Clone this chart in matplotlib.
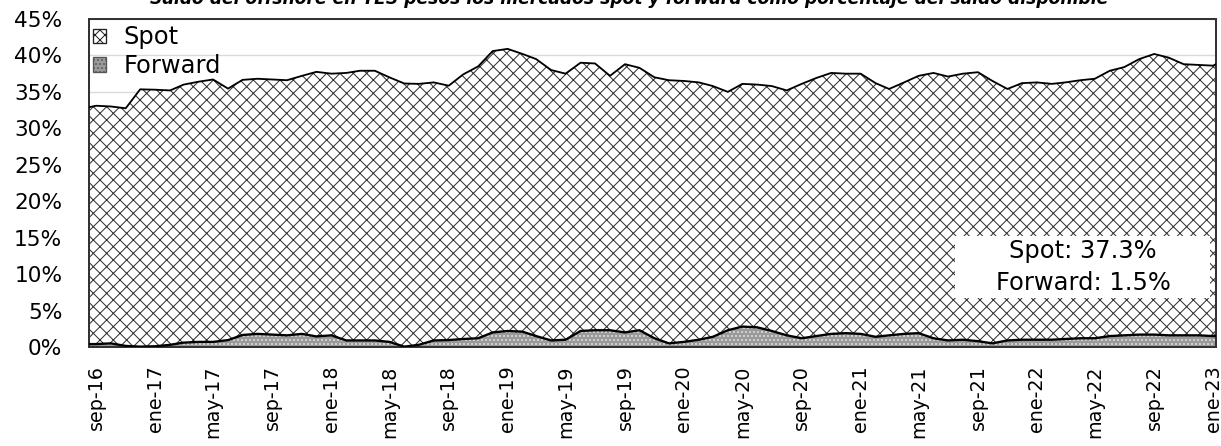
import numpy as np
import pandas as pd
import matplotlib
matplotlib.use("Agg")
import matplotlib.pyplot as plt
from matplotlib.patches import Patch, Rectangle

plt.rcParams['font.family'] = ['DejaVu Sans']
plt.rcParams['hatch.linewidth'] = 0.6

# data (% of available balance), monthly readings + first/last day
dates = (['2016-08-17']
         + [d.strftime('%Y-%m-%d') for d in pd.date_range('2016-09-01', '2023-01-01', freq='MS')]
         + ['2023-01-07'])

spot = [32.5,
        32.7, 32.5, 32.6, 35.3, 35.2, 34.9, 35.4, 35.7, 36.0, 34.5,
        35.0, 35.0, 35.0, 35.0, 35.4, 36.3, 35.9, 36.7, 37.0, 37.0,
        36.3, 36.1, 35.8, 35.4, 34.9, 36.3, 37.3, 38.6, 38.7, 38.1,
        38.0, 37.1, 36.5, 36.8, 36.6, 34.9, 36.8, 36.0, 35.8, 36.1,
        35.8, 35.3, 34.4, 32.7, 33.3, 33.3, 33.6, 33.6, 34.9, 35.4,
        35.8, 35.6, 35.7, 34.8, 33.8, 34.5, 35.3, 36.4, 36.2, 36.5,
        36.9, 36.0, 34.5, 35.2, 35.3, 35.1, 35.2, 35.4, 35.6, 36.4,
        36.8, 37.8, 38.5, 38.1, 37.2, 37.1, 37.1,
        37.3]

forward = [0.4,
           0.4, 0.5, 0.15, 0.05, 0.1, 0.3, 0.6, 0.7, 0.7, 0.95,
           1.65, 1.8, 1.7, 1.6, 1.8, 1.45, 1.6, 0.9, 0.9, 0.9,
           0.7, 0.05, 0.3, 0.9, 0.95, 1.1, 1.2, 2.0, 2.2, 2.1,
           1.5, 0.9, 1.0, 2.2, 2.3, 2.3, 2.0, 2.3, 1.2, 0.5,
           0.7, 1.0, 1.4, 2.3, 2.8, 2.7, 2.2, 1.6, 1.2, 1.5,
           1.8, 1.9, 1.8, 1.4, 1.6, 1.8, 1.9, 1.2, 0.9, 1.0,
           0.8, 0.5, 0.9, 1.0, 1.0, 1.0, 1.1, 1.2, 1.2, 1.5,
           1.6, 1.7, 1.7, 1.6, 1.6, 1.6, 1.5,
           1.5]

tick_dates = pd.date_range('2016-09-01', '2023-01-01', freq='4MS')
tick_labels = ['sep-16', 'ene-17', 'may-17', 'sep-17', 'ene-18', 'may-18', 'sep-18',
               'ene-19', 'may-19', 'sep-19', 'ene-20', 'may-20', 'sep-20', 'ene-21',
               'may-21', 'sep-21', 'ene-22', 'may-22', 'sep-22', 'ene-23']

title = ('Saldo del offshore en TES pesos los mercados spot y forward '
         'como porcentaje del saldo disponible')
note = 'Spot: 37.3%\nForward: 1.5%'

x = pd.to_datetime(dates)
spot = np.array(spot)
forward = np.array(forward)
total = spot + forward

fig = plt.figure(figsize=(1221 / 120, 446 / 120), dpi=120)
ax = fig.add_axes([89 / 1221, 1 - 347 / 446, (1216 - 89) / 1221, (347 - 19) / 446])

ax.fill_between(x, 0, forward, facecolor='#9a9a9a', edgecolor='#e8e8e8',
                hatch='.....', linewidth=0, zorder=2)
ax.fill_between(x, forward, total, facecolor='white', edgecolor='#303030',
                hatch='xxx', linewidth=0, zorder=2)
ax.plot(x, forward, color='black', lw=1.4, zorder=3)
ax.plot(x, total, color='black', lw=1.1, zorder=3)

ax.set_ylim(0, 45)
ax.set_yticks(np.arange(0, 46, 5))
ax.set_yticklabels([f'{v}%' for v in range(0, 46, 5)])
ax.set_xlim(pd.Timestamp('2016-08-17'), pd.Timestamp('2023-01-07'))
ax.set_xticks(tick_dates)
ax.set_xticklabels(tick_labels, rotation=90)
ax.tick_params(axis='both', length=0)
ax.tick_params(axis='y', labelsize=13, pad=16)
ax.tick_params(axis='x', labelsize=11.5, pad=11)

ax.grid(axis='y', color='#d9d9d9', lw=0.8)
ax.set_axisbelow(True)
for s in ax.spines.values():
    s.set_color('#333333')
    s.set_linewidth(1.2)

handles = [Patch(facecolor='white', edgecolor='#222222', hatch='xxxx', lw=0.8),
           Patch(facecolor='#9a9a9a', edgecolor='#555555', hatch='.....', lw=0.8)]
ax.legend(handles, ['Spot', 'Forward'], loc='upper left', frameon=False,
          fontsize=14.5, handlelength=0.55, handleheight=0.55, handletextpad=0.7,
          borderaxespad=0.0, labelspacing=0.2, bbox_to_anchor=(-0.005, 1.01))

# white note box in the lower right
ax.add_patch(Rectangle((0.768, 0.149), 0.227, 0.189, transform=ax.transAxes,
                       facecolor='white', edgecolor='none', zorder=4))
ax.text(0.882, 0.244, note, transform=ax.transAxes, ha='center', va='center',
        fontsize=14.5, linespacing=1.45, zorder=5)

fig.text(0.515, 1 - 4.5 / 446, title, ha='center', va='baseline', fontsize=10.3,
         fontweight='bold', fontstyle='italic')

fig.savefig('out.png', dpi=120)
